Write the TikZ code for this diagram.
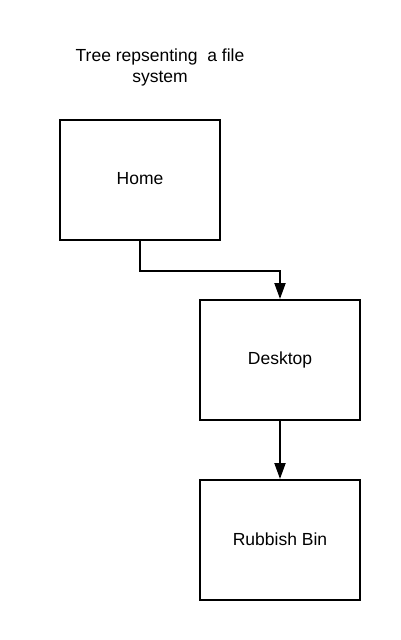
\documentclass[tikz,border=0pt]{standalone}
\usepackage{fontspec}
\setmainfont{Liberation Sans}
\usetikzlibrary{arrows.meta}
\begin{document}
\begin{tikzpicture}[x=1pt,y=-1pt,
  txt/.style={font=\fontsize{17.5}{21}\selectfont},
  box/.style={draw,line width=2pt,minimum width=160pt,minimum height=120pt,inner sep=0pt,txt},
  conn/.style={line width=2pt,-{Triangle[length=16pt,width=11pt]}}]
\useasboundingbox (0,0) rectangle (400,640);
\node[align=center,txt] (title) at (160,67) {Tree repsenting\ \ a file\\system};
\node[box] (home) at (140,180) {\raisebox{2.5pt}{Home}};
\node[box] (desk) at (280,360) {\raisebox{2.5pt}{Desktop}};
\node[box] (bin) at (280,540) {\raisebox{2.5pt}{Rubbish Bin}};
\draw[conn] (home.south) -- ++(0,30) -| (desk.north);
\draw[conn] (desk.south) -- (bin.north);
\end{tikzpicture}
\end{document}
